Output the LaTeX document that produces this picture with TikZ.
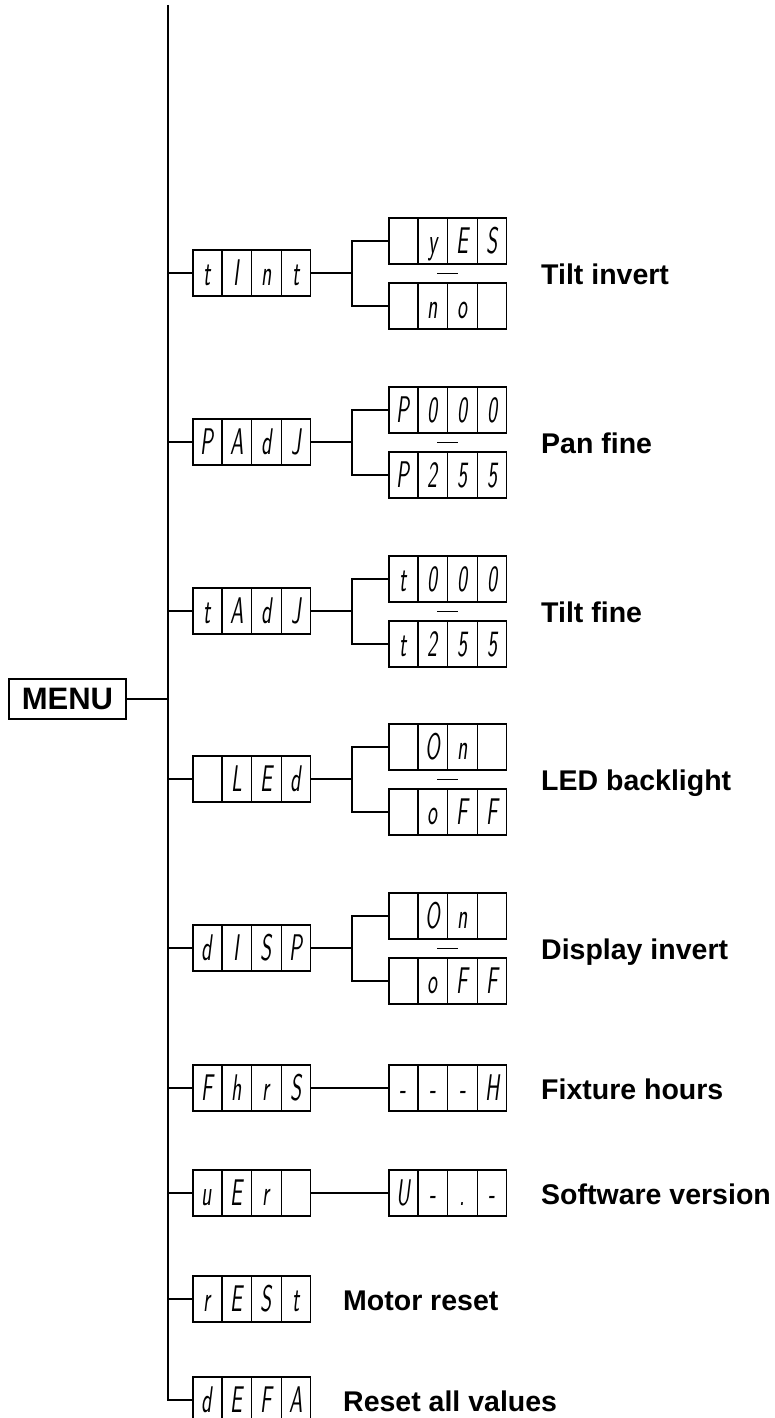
\documentclass[tikz,border=0pt]{standalone}
\usepackage{fontspec}
\usepackage{graphicx}
\newfontfamily\labelfont{Liberation Sans}
\usetikzlibrary{shapes.multipart}
\usetikzlibrary{calc}

% one cell of the display, and a full four-cell display
\newcommand{\sg}[1]{\makebox[28.25pt]{\rule[-23pt]{0pt}{46pt}\raisebox{-12.9pt}{\scalebox{0.8}[1.4]{\fontsize{26.5}{26.5}\selectfont\sffamily\slshape #1}}}}
\newcommand{\dsp}[4]{\sg{#1}\nodepart{two}\sg{#2}\nodepart{three}\sg{#3}\nodepart{four}\sg{#4}}

\begin{document}
\begin{tikzpicture}[
    x=1pt, y=-1pt,
    disp/.style={rectangle split, rectangle split horizontal, rectangle split parts=4,
                 draw, line width=1.5pt, inner sep=0pt, anchor=west},
    menubox/.style={draw, line width=1.5pt, minimum width=117pt, minimum height=40pt,
                    inner sep=0pt, font=\labelfont\bfseries\fontsize{31}{33}\selectfont},
    lbl/.style={anchor=base west, inner sep=0pt, font=\labelfont\bfseries\fontsize{28.5}{30}\selectfont},
    conn/.style={line width=1.6pt}
]
    \useasboundingbox (0,0) rectangle (774,1418);

    % Menu and spine
    \node[menubox] (menu) at (67.5,699) {MENU};
    \coordinate (top) at (168,5);
    \coordinate (bot) at (168,1400);

    % Tilt invert
    \node[disp] (tint) at (192,273) {\dsp{t}{I}{n}{t}};
    \node[disp] (tintyes) at (388,241) {\dsp{}{y}{E}{S}};
    \node[disp] (tintno) at (388,306) {\dsp{}{n}{o}{}};
    \node[lbl] (tiltinv) at (541,284) {Tilt invert};

    % Pan fine
    \node[disp] (padj) at (192,442) {\dsp{P}{A}{d}{J}};
    \node[disp] (padjlo) at (388,410) {\dsp{P}{0}{0}{0}};
    \node[disp] (padjhi) at (388,475) {\dsp{P}{2}{5}{5}};
    \node[lbl] (panfine) at (541,453) {Pan fine};

    % Tilt fine
    \node[disp] (tadj) at (192,611) {\dsp{t}{A}{d}{J}};
    \node[disp] (tadjlo) at (388,579) {\dsp{t}{0}{0}{0}};
    \node[disp] (tadjhi) at (388,644) {\dsp{t}{2}{5}{5}};
    \node[lbl] (tiltfine) at (541,622) {Tilt fine};

    % LED backlight
    \node[disp] (led) at (192,779) {\dsp{}{L}{E}{d}};
    \node[disp] (ledon) at (388,747) {\dsp{}{O}{n}{}};
    \node[disp] (ledoff) at (388,812) {\dsp{}{o}{F}{F}};
    \node[lbl] (ledlight) at (541,790) {LED backlight};

    % Display invert
    \node[disp] (disp) at (192,948) {\dsp{d}{I}{S}{P}};
    \node[disp] (dispon) at (388,916) {\dsp{}{O}{n}{}};
    \node[disp] (dispoff) at (388,981) {\dsp{}{o}{F}{F}};
    \node[lbl] (dispinv) at (541,959) {Display invert};

    % Fixture hours
    \node[disp] (fhrs) at (192,1088) {\dsp{F}{h}{r}{S}};
    \node[disp] (hours) at (388,1088) {\dsp{-}{-}{-}{H}};
    \node[lbl] (fixhours) at (541,1099) {Fixture hours};

    % Software version
    \node[disp] (ver) at (192,1193) {\dsp{u}{E}{r}{}};
    \node[disp] (vernum) at (388,1193) {\dsp{U}{-}{.}{-}};
    \node[lbl] (softver) at (541,1204) {Software version};

    % Motor reset and defaults
    \node[disp] (rest) at (192,1299) {\dsp{r}{E}{S}{t}};
    \node[lbl] (motres) at (343,1310) {Motor reset};
    \node[disp] (defa) at (192,1400) {\dsp{d}{E}{F}{A}};
    \node[lbl] (resall) at (343,1411) {Reset all values};

    % Connections
    \draw[conn] (menu) -- (menu -| top);
    \draw[conn] (top) -- (bot) -- (defa.west);
    \draw[conn] (tint.west -| top) -- (tint.west);
    \draw[conn] (padj.west -| top) -- (padj.west);
    \draw[conn] (tadj.west -| top) -- (tadj.west);
    \draw[conn] (led.west -| top) -- (led.west);
    \draw[conn] (disp.west -| top) -- (disp.west);
    \draw[conn] (fhrs.west -| top) -- (fhrs.west);
    \draw[conn] (ver.west -| top) -- (ver.west);
    \draw[conn] (rest.west -| top) -- (rest.west);

    \draw[conn] (tint.east) -- ++(41,0) |- (tintyes.west);
    \draw[conn] (tint.east) -- ++(41,0) |- (tintno.west);
    \draw[conn] (padj.east) -- ++(41,0) |- (padjlo.west);
    \draw[conn] (padj.east) -- ++(41,0) |- (padjhi.west);
    \draw[conn] (tadj.east) -- ++(41,0) |- (tadjlo.west);
    \draw[conn] (tadj.east) -- ++(41,0) |- (tadjhi.west);
    \draw[conn] (led.east) -- ++(41,0) |- (ledon.west);
    \draw[conn] (led.east) -- ++(41,0) |- (ledoff.west);
    \draw[conn] (disp.east) -- ++(41,0) |- (dispon.west);
    \draw[conn] (disp.east) -- ++(41,0) |- (dispoff.west);
    \draw[conn] (fhrs.east) -- (hours.west);
    \draw[conn] (ver.east) -- (vernum.west);

    % Range dashes
    \draw[conn] ($(tintyes.south)!0.5!(tintno.north)$) +(-10.5,0) -- +(10.5,0);
    \draw[conn] ($(padjlo.south)!0.5!(padjhi.north)$) +(-10.5,0) -- +(10.5,0);
    \draw[conn] ($(tadjlo.south)!0.5!(tadjhi.north)$) +(-10.5,0) -- +(10.5,0);
    \draw[conn] ($(ledon.south)!0.5!(ledoff.north)$) +(-10.5,0) -- +(10.5,0);
    \draw[conn] ($(dispon.south)!0.5!(dispoff.north)$) +(-10.5,0) -- +(10.5,0);
\end{tikzpicture}
\end{document}
